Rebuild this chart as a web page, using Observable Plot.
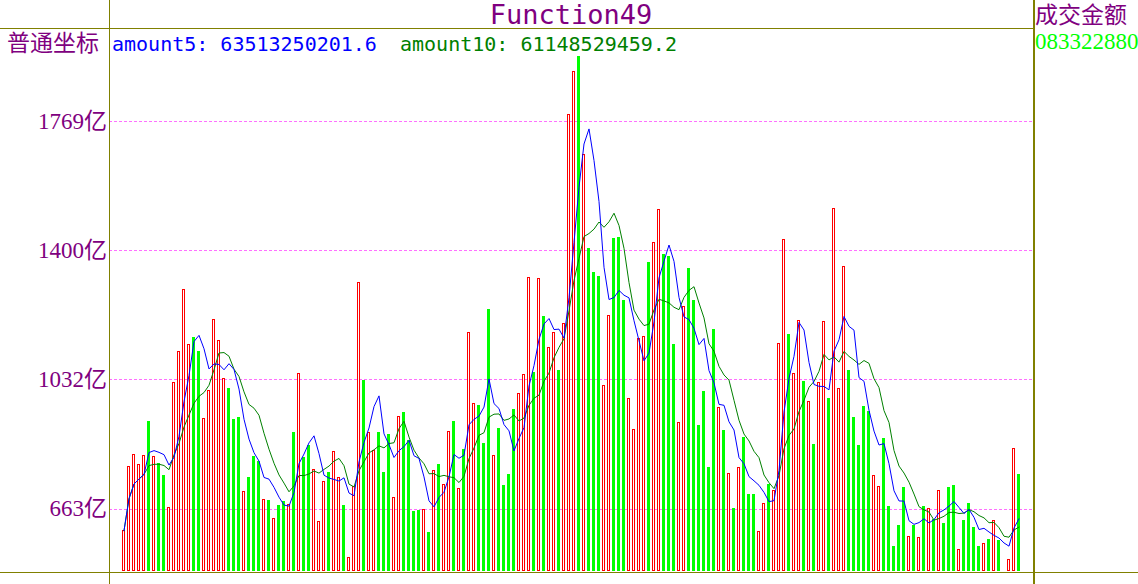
<!DOCTYPE html>
<html><head><meta charset="utf-8">
<script src="https://cdn.jsdelivr.net/npm/d3@7"></script>
<script src="https://cdn.jsdelivr.net/npm/@observablehq/plot@0.6"></script>
<style>
body{margin:0;background:#fff;}
#wrap{position:relative;width:1138px;height:584px;overflow:hidden;}
</style></head><body>
<div id="wrap"></div>
<script>
// 成交金额 (亿) per day
const amount = [
601,784,818,791,815,912,812,793,758,667,
1023,1111,1288,1131,1151,1111,920,1000,1203,1143,
1035,1007,918,923,712,752,813,798,690,688,
635,673,685,675,881,1049,809,845,775,627,
741,768,826,752,673,524,728,1310,1029,880,
829,881,768,875,697,926,938,859,655,658,
663,596,774,789,732,885,912,721,832,1166,
963,958,850,1233,815,892,729,761,947,993,
1046,1323,1052,1320,1213,1124,1166,1058,1192,1789,
1912,1954,1675,1407,1338,1327,1016,1215,1436,1439,
1259,978,889,1150,1154,1367,1424,1518,1388,1384,
1133,910,1240,1350,1259,901,998,781,1175,953,
887,763,664,781,866,703,703,600,680,734,
717,1135,1432,1160,1049,1200,1027,969,846,1023,
1198,979,1521,1008,1355,1058,924,844,956,942,
760,726,864,669,556,615,724,584,617,581,
670,664,632,715,621,724,730,547,630,678,
611,556,565,577,630,572.8,486,519,837,760.83
];
// 1 = up day (red hollow), 0 = down day (green solid)
const rise = [
1,1,1,1,1,0,1,0,0,1,
1,1,1,1,0,0,1,1,1,1,
1,0,0,0,1,0,0,0,1,0,
1,0,0,1,0,1,0,0,1,1,
1,0,1,1,0,1,1,1,0,1,
1,0,0,0,1,1,0,0,0,0,
1,0,1,0,1,1,0,1,0,1,
1,0,0,0,1,0,0,0,0,1,
1,1,0,1,0,1,1,0,1,1,
1,0,1,0,0,0,1,1,0,0,
0,1,1,1,1,0,1,1,0,0,
0,1,1,0,0,0,0,0,0,1,
0,1,0,1,0,0,0,1,1,0,
1,1,1,0,1,1,0,1,0,1,
1,0,1,1,1,0,0,0,0,0,
1,1,0,0,0,0,0,1,0,1,
0,1,0,1,0,0,0,1,0,0,
0,0,1,0,1,0,0,1,1,0
];
const yTicks = [663, 1032, 1400, 1769];
const titleText = "Function49";
const axisTitle = "普通坐标";
const legend5 = "amount5: 63513250201.6";
const legend10 = "amount10: 61148529459.2";
const panelTitle = "成交金额";
const panelValue = "76083322880";

const data = amount.map((v, i) => ({i, v, up: rise[i] === 1}));
const yMin = 484.7, yMax = 2033.9;

const chart = Plot.plot({
  width: 1138, height: 584,
  marginLeft: 109.4, marginRight: 105.5, marginTop: 28, marginBottom: 13,
  style: {background: "transparent", overflow: "visible"},
  x: {type: "band", domain: d3.range(amount.length), paddingInner: 0.42, paddingOuter: 0.21, axis: null},
  y: {domain: [yMin, yMax]},
  marks: [
    Plot.gridY(yTicks, {stroke: "#ff70ff", strokeOpacity: 1, strokeWidth: 1, strokeDasharray: "3,2", shapeRendering: "crispEdges"}),
    Plot.barY(data.filter(d => !d.up), {x: "i", y1: yMin, y2: "v", fill: "#00ff00", shapeRendering: "crispEdges"}),
    Plot.barY(data.filter(d => d.up), {x: "i", y1: yMin, y2: "v", fill: "none", stroke: "#ff0000", strokeWidth: 1, inset: 0.5, shapeRendering: "crispEdges"}),
    Plot.lineY(data, Plot.windowY({k: 10, anchor: "end", reduce: "mean", strict: false}, {x: "i", y: "v", stroke: "#008000", strokeWidth: 1})),
    Plot.lineY(data, Plot.windowY({k: 5, anchor: "end", reduce: "mean", strict: false}, {x: "i", y: "v", stroke: "#0000ff", strokeWidth: 1})),
    Plot.axisY(yTicks, {anchor: "left", tickFormat: d => d + "亿", tickSize: 0, tickPadding: 3, fontSize: 23,
      fontFamily: "Liberation Serif, Noto Sans CJK SC", color: "#800080", label: null})
  ]
});

const svg = d3.select(chart);
const olive = "#808000";
const addLine = (x1, y1, x2, y2, w) => svg.append("line").attr("x1", x1).attr("y1", y1).attr("x2", x2).attr("y2", y2)
  .attr("stroke", olive).attr("stroke-width", w).attr("shape-rendering", "crispEdges");
addLine(0, 28.5, 1034, 28.5, 1);
addLine(109.5, 0, 109.5, 584, 1);
addLine(1034, 0, 1034, 584, 2);
addLine(0, 572.5, 1138, 572.5, 1);

const addText = (txt, x, y, size, family, fill, anchor = "start") => svg.append("text").text(txt)
  .attr("x", x).attr("y", y).attr("font-size", size).attr("font-family", family)
  .attr("fill", fill).attr("text-anchor", anchor);

addText(titleText, 571, 24, 27, "DejaVu Sans Mono", "#800080", "middle");
addText(axisTitle, 7, 51, 23, "Noto Sans CJK SC", "#800080");
addText(legend5, 112, 51, 20, "DejaVu Sans Mono", "#0000ff");
addText(legend10, 400, 51, 20, "DejaVu Sans Mono", "#008000");
addText(panelTitle, 1035, 23, 23, "Noto Sans CJK SC", "#800080");

svg.append("defs").append("clipPath").attr("id", "panelClip")
  .append("rect").attr("x", 1035).attr("y", 0).attr("width", 103).attr("height", 584);
addText(panelValue, 1012, 48.5, 23, "Liberation Serif", "#00ff00").attr("clip-path", "url(#panelClip)");

document.getElementById("wrap").appendChild(chart);
</script>
</body></html>
